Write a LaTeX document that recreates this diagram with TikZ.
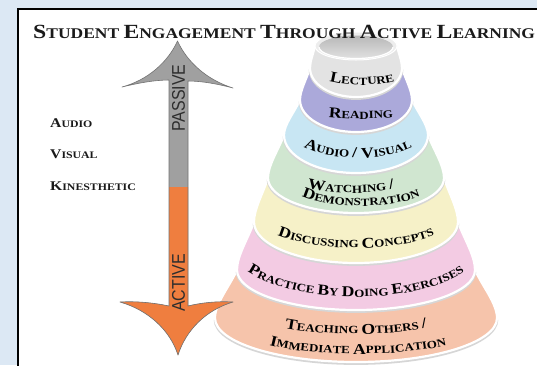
\documentclass[tikz,border=0pt]{standalone}
\usepackage{fontspec}
\newfontfamily\tsb[FakeStretch=1.18]{Liberation Serif}
\newfontfamily\asans{Liberation Sans}
\usetikzlibrary{decorations.text}
\definecolor{bgblue}{HTML}{DCE8F4}
\definecolor{lectcol}{HTML}{E3E3E3}
\definecolor{rimcol}{HTML}{EDEDED}
\definecolor{readcol}{HTML}{ABA9DA}
\definecolor{avcol}{HTML}{C8E6F3}
\definecolor{greencol}{HTML}{D0E6D0}
\definecolor{yellowcol}{HTML}{F6F1C8}
\definecolor{pinkcol}{HTML}{F3CBE3}
\definecolor{teachcol}{HTML}{F6C4AB}
\definecolor{arrgray}{HTML}{A0A0A0}
\definecolor{arrorange}{HTML}{EF7E3F}
\definecolor{inktext}{HTML}{1A1A1A}
\newcommand\LCap{\tsb\bfseries\fontsize{15}{15}\selectfont}
\newcommand\SCap{\tsb\bfseries\fontsize{11}{11}\selectfont}
\newcommand\TBig{\fontsize{20.1}{20}\selectfont}
\newcommand\TSm{\fontsize{14.8}{14}\selectfont}
\newcommand\LBig{\fontsize{13.3}{13}\selectfont}
\newcommand\LSm{\fontsize{10}{10}\selectfont}
\def\cx{356}
% #1 colour, #2 a above, #3 c above, #4 a, #5 c, #6 b
\newcommand\band[6]{%
  \pgfmathsetmacro\bandAx{#2+0.35*(#4-#2)}%
  \pgfmathsetmacro\bandAy{-#3-0.35*(#5-#3)}%
  \pgfmathsetmacro\bandBy{-#5+0.3*(#5-#3)}%
  \draw[black!16,line width=2.6pt] ({\cx-#4},{-#5-1.6}) arc[start angle=180,end angle=360,x radius=#4,y radius=#6];
  \filldraw[fill=#1,draw=white,line width=2.2pt,line join=round]
  ({\cx-#2},-#3) .. controls ({\cx-\bandAx},\bandAy) and ({\cx-#4},\bandBy) .. ({\cx-#4},-#5)
  arc[start angle=180,end angle=360,x radius=#4,y radius=#6]
  .. controls ({\cx+#4},\bandBy) and ({\cx+\bandAx},\bandAy) .. ({\cx+#2},-#3);}
\newcommand\arctext[5]{\path[decorate,decoration={text along path,text align=center,text={#5}}]
  ({#1-#3},{-#2+#4}) arc[start angle=180,end angle=360,x radius=#3,y radius=#4];}
\tikzset{
  sidelabel/.style={anchor=base west,inner sep=0pt,text=inktext,font=\tsb\bfseries},
  arrowword/.style={rotate=90,inner sep=0pt,text=black!82,font=\asans\fontsize{16}{16}\selectfont},
}
\begin{document}
\begin{tikzpicture}[x=1pt,y=1pt]
\useasboundingbox (0,0) rectangle (537,-365);
\clip (0,0) rectangle (537,-365);
\fill[bgblue] (0,0) rectangle (537,-365);
\fill[white] (18,-9) rectangle (545,-372);
\draw[black,line width=2pt] (18,-372) -- (18,-9) -- (545,-9);

% pyramid bands (bottom to top)
\band{teachcol}{119}{270}{141}{318}{44}
\band{pinkcol}{102}{222}{119}{270}{40}
\band{yellowcol}{88}{178}{102}{222}{41}
\band{greencol}{72}{135}{88}{178}{35}
\band{avcol}{56}{100}{72}{135}{38}
\band{readcol}{46}{68}{56}{100}{32}
\band{lectcol}{41}{46}{46}{68}{29}
\filldraw[fill=rimcol,draw=white,line width=1pt] (\cx,-46) ellipse[x radius=41,y radius=14];
\shade[top color=black!28,bottom color=black!12] (\cx,-47) ellipse[x radius=37,y radius=11.5];
\draw[white,line width=1.2pt] ({\cx-37},-47) arc[start angle=180,end angle=360,x radius=37,y radius=11.5];

% band texts
\arctext{362}{85}{50}{16}{|\LCap|L|\SCap|ECTURE}
\arctext{361}{119}{60}{10}{|\LCap|R|\SCap|EADING}
\arctext{358}{158}{80}{40}{|\LCap|A|\SCap|UDIO |\LCap|/ V|\SCap|ISUAL}
\arctext{351}{193}{70}{20}{|\LCap|W|\SCap|ATCHING |\LCap|/}
\arctext{361}{206}{70}{22}{|\LCap|D|\SCap|EMONSTRATION}
\arctext{356}{248}{100}{34}{|\LCap|D|\SCap|ISCUSSING |\LCap|C|\SCap|ONCEPTS}
\arctext{356}{297}{125}{50}{|\LCap|P|\SCap|RACTICE |\LCap|B|\SCap|Y |\LCap|D|\SCap|OING |\LCap|E|\SCap|XERCISES}
\arctext{356}{334}{100}{20}{|\LCap|T|\SCap|EACHING |\LCap|O|\SCap|THERS |\LCap|/}
\arctext{358}{354}{110}{22}{|\LCap|I|\SCap|MMEDIATE |\LCap|A|\SCap|PPLICATION}

% title (drawn over the top of the pyramid)
\node[anchor=base west,inner sep=0pt,text=inktext,font=\tsb\bfseries] (title) at (33,-38)
  {\TBig S\TSm TUDENT \TBig E\TSm NGAGEMENT \TBig T\TSm HROUGH \TBig A\TSm CTIVE \TBig L\TSm EARNING};

% double arrow
\path[save path=\arrp] (177.5,-41) .. controls (168,-62) and (148,-80) .. (122,-87)
  .. controls (138,-83) and (155,-80) .. (169,-80) -- (169,-306)
  .. controls (155,-303) and (137,-301) .. (120,-302)
  .. controls (148,-310) and (170,-330) .. (178,-355)
  .. controls (186,-330) and (206,-310) .. (233,-302)
  .. controls (216,-301) and (200,-303) .. (188,-306) -- (188,-81)
  .. controls (202,-81) and (218,-84) .. (233,-88)
  .. controls (207,-80) and (187,-62) .. (177.5,-41) -- cycle;
\fill[arrgray,use path=\arrp];
\begin{scope}
  \clip[use path=\arrp];
  \fill[arrorange] (100,-187) rectangle (260,-370);
\end{scope}
\draw[black!55,line width=0.6pt,line join=round,use path=\arrp];
\node[arrowword] (passive) at (178.5,-98) {\scalebox{1}[1.15]{PASSIVE}};
\node[arrowword] (active) at (178.5,-283) {\scalebox{1}[1.15]{ACTIVE}};

% side labels
\node[sidelabel] (audio) at (50,-127) {\LBig A\LSm UDIO};
\node[sidelabel] (visual) at (50,-158) {\LBig V\LSm ISUAL};
\node[sidelabel] (kin) at (50,-190) {\LBig K\LSm INESTHETIC};
\end{tikzpicture}
\end{document}
